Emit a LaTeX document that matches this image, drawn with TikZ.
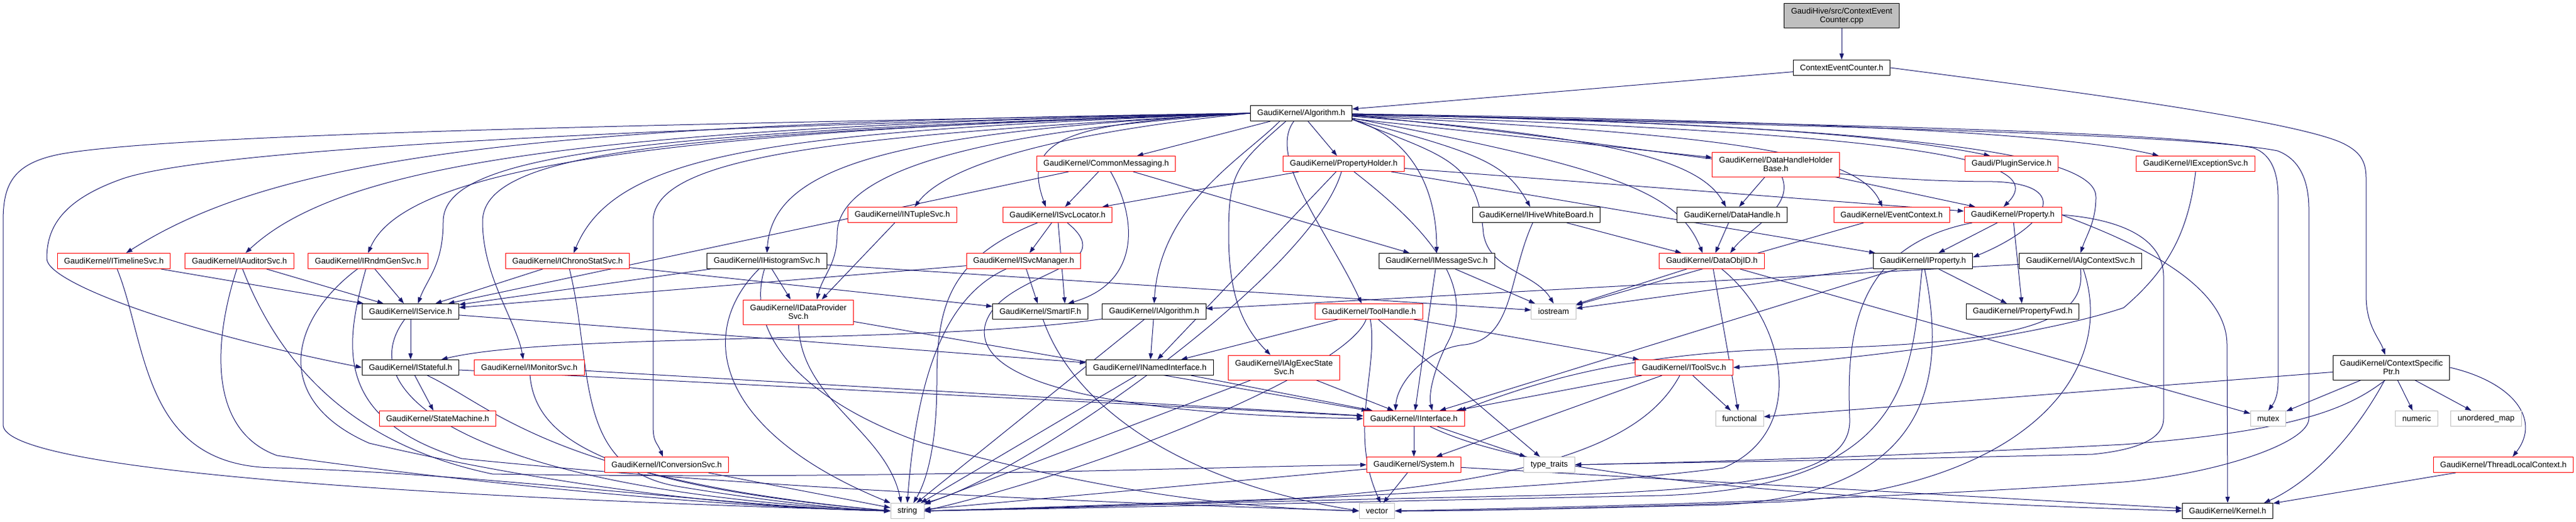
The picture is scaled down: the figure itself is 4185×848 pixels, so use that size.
\documentclass[tikz,border=0pt]{standalone}
\usepackage{fontspec}
\setmainfont{Liberation Sans}
\usetikzlibrary{arrows.meta}
\pgfdeclarelayer{bglayer}
\pgfdeclarelayer{edgelayer}
\pgfsetlayers{bglayer,edgelayer,main}
\definecolor{edgec}{HTML}{191970}
\definecolor{sysgray}{HTML}{BFBFBF}
\definecolor{rootgray}{HTML}{BFBFBF}
\definecolor{rednode}{HTML}{FF0000}
\newcommand{\dxfont}{\fontsize{13.1}{14.3}\selectfont}
\begin{document}
\begin{tikzpicture}[x=1pt,y=-1pt,
 nd/.style={rectangle, inner xsep=11pt, inner ysep=0pt, minimum height=25pt, font=\dxfont, line width=1pt, fill=white, text=black},
 blk/.style={nd, draw=black},
 rnd/.style={nd, draw=rednode},
 sys/.style={nd, draw=sysgray},
 two/.style={minimum height=40pt, align=center},
 e/.style={draw=edgec, line width=1pt, -{Triangle[length=10pt,width=7pt]}},
]
\begin{pgfonlayer}{bglayer}
\fill[white] (0,0) rectangle (4185,848);
\end{pgfonlayer}
\useasboundingbox (0,0) rectangle (4185,848);

% ---------------- nodes ----------------
\node[blk, two, fill=rootgray] (cpp) at (2992,26) {GaudiHive/src/ContextEvent\\Counter.cpp};
\node[blk] (ceh) at (2992,110) {ContextEventCounter.h};
\node[blk] (alg) at (2114,184) {GaudiKernel/Algorithm.h};
\node[rnd] (commonmsg) at (1797,266) {GaudiKernel/CommonMessaging.h};
\node[rnd] (propholder) at (2183,266) {GaudiKernel/PropertyHolder.h};
\node[rnd, two] (dhhb) at (2885,267) {GaudiKernel/DataHandleHolder\\Base.h};
\node[rnd] (plugin) at (3268,266) {Gaudi/PluginService.h};
\node[rnd] (exception) at (3567,266) {GaudiKernel/IExceptionSvc.h};
\node[rnd] (ntuple) at (1466,349) {GaudiKernel/INTupleSvc.h};
\node[rnd] (svcloc) at (1718,349) {GaudiKernel/ISvcLocator.h};
\node[blk] (hive) at (2496,349) {GaudiKernel/IHiveWhiteBoard.h};
\node[blk] (datahandle) at (2814,349) {GaudiKernel/DataHandle.h};
\node[rnd] (evctx) at (3073,349) {GaudiKernel/EventContext.h};
\node[rnd] (property) at (3270,349) {GaudiKernel/Property.h};
\node[rnd] (timeline) at (185,424) {GaudiKernel/ITimelineSvc.h};
\node[rnd] (auditor) at (389,424) {GaudiKernel/IAuditorSvc.h};
\node[rnd] (rndm) at (598,424) {GaudiKernel/IRndmGenSvc.h};
\node[rnd] (chrono) at (922,424) {GaudiKernel/IChronoStatSvc.h};
\node[blk] (histo) at (1246,424) {GaudiKernel/IHistogramSvc.h};
\node[rnd] (svcmgr) at (1663,424) {GaudiKernel/ISvcManager.h};
\node[blk] (msgsvc) at (2334,424) {GaudiKernel/IMessageSvc.h};
\node[rnd] (dataobjid) at (2781,424) {GaudiKernel/DataObjID.h};
\node[blk] (iproperty) at (3124,424) {GaudiKernel/IProperty.h};
\node[blk] (algctx) at (3380,424) {GaudiKernel/IAlgContextSvc.h};
\node[blk] (service) at (667,506) {GaudiKernel/IService.h};
\node[rnd, two] (dataprov) at (1297,507) {GaudiKernel/IDataProvider\\Svc.h};
\node[blk] (smartif) at (1690,506) {GaudiKernel/SmartIF.h};
\node[blk] (ialgorithm) at (1875,506) {GaudiKernel/IAlgorithm.h};
\node[rnd] (toolhandle) at (2224,506) {GaudiKernel/ToolHandle.h};
\node[sys] (iostream) at (2524,506) {iostream};
\node[blk] (propfwd) at (3286,506) {GaudiKernel/PropertyFwd.h};
\node[blk] (stateful) at (667,597) {GaudiKernel/IStateful.h};
\node[rnd] (monitor) at (860,597) {GaudiKernel/IMonitorSvc.h};
\node[blk] (namedif) at (1868,597) {GaudiKernel/INamedInterface.h};
\node[rnd, two] (algexec) at (2086,597) {GaudiKernel/IAlgExecState\\Svc.h};
\node[rnd] (toolsvc) at (2736,597) {GaudiKernel/IToolSvc.h};
\node[blk, two] (csp) at (3885,597) {GaudiKernel/ContextSpecific\\Ptr.h};
\node[rnd] (statemachine) at (711,680) {GaudiKernel/StateMachine.h};
\node[rnd] (iinterface) at (2297,680) {GaudiKernel/IInterface.h};
\node[sys] (functional) at (2826,680) {functional};
\node[sys] (mutex) at (3685,680) {mutex};
\node[sys] (numeric) at (3926,680) {numeric};
\node[sys] (umap) at (4039,680) {unordered\_map};
\node[rnd] (conversion) at (1083,755) {GaudiKernel/IConversionSvc.h};
\node[rnd] (system) at (2297,755) {GaudiKernel/System.h};
\node[sys] (typetraits) at (2517,755) {type\_traits};
\node[rnd] (tlc) at (4067,755) {GaudiKernel/ThreadLocalContext.h};
\node[sys] (string) at (1474,830) {string};
\node[sys] (vector) at (2237,830) {vector};
\node[blk] (kernel) at (3619,830) {GaudiKernel/Kernel.h};

% ---------------- edges ----------------
\begin{pgfonlayer}{edgelayer}
\draw[e] (cpp) -- (ceh);
\draw[e] (ceh) -- (alg);
\draw[e] (ceh.east) .. controls (3300,140) and (3700,190) .. (3800,230) .. controls (3835,245) and (3844,262) .. (3844,290) -- (3844,480) .. controls (3844,530) and (3866,550) .. ([xshift=-10pt]csp.north);

% Algorithm fan to the left
\draw[e] (alg.west) .. controls (1200,200) and (300,215) .. (100,250) .. controls (20,265) and (5,300) .. (5,360) -- (5,690) .. controls (5,760) and (600,805) .. (string.west);
\draw[e] (alg.west) .. controls (1100,205) and (350,240) .. (200,290) .. controls (100,325) and (76,370) .. (76,420) .. controls (76,460) and (300,540) .. (stateful.west);
\draw[e] (alg.west) .. controls +(-1150,15) and +(250,-160) .. ([xshift=20pt]timeline.north);
\draw[e] (alg.west) .. controls +(-1050,22) and +(160,-150) .. ([xshift=10pt]auditor.north);
\draw[e] (alg.west) .. controls +(-950,28) and +(60,-140) .. (rndm.north);
\draw[e] (alg.west) .. controls +(-750,30) and +(70,-170) .. ([xshift=10pt]chrono.north);
\draw[e] (alg.west) .. controls +(-550,30) and +(10,-150) .. (histo.north);
\draw[e] (alg.west) .. controls +(-250,25) and +(60,-80) .. ([xshift=20pt]ntuple.north);
\draw[e] (alg.west) .. controls +(-1000,30) and +(0,-110) .. (720,360) .. controls +(0,70) and +(15,-40) .. ([xshift=12pt]service.north);
\draw[e] (alg.west) .. controls +(-900,32) and +(0,-120) .. (784,360) .. controls +(0,90) and +(-10,-60) .. ([xshift=-10pt]monitor.north);
\draw[e] (alg.west) .. controls +(-650,36) and +(0,-110) .. (1061,360) -- (1061,690) .. controls +(0,30) and +(-10,-25) .. ([xshift=-6pt]conversion.north);
\draw[e] (alg.west) .. controls +(-450,30) and +(0,-100) .. (1360,380) .. controls +(0,50) and +(10,-40) .. ([xshift=30pt]dataprov.north);
\draw[e] (alg) -- (commonmsg);
\draw[e] (alg.west) .. controls +(-300,15) and +(-40,-110) .. ([xshift=-19pt]svcloc.north);
\draw[e] (alg) -- (propholder);
\draw[e] ([xshift=-35pt]alg.south) .. controls +(-60,60) and +(10,-160) .. (ialgorithm.north);
\draw[e] ([xshift=-25pt]alg.south) .. controls +(-80,70) and +(0,-100) .. (1996,380) .. controls +(0,90) and +(-50,-50) .. ([xshift=-22pt]algexec.north);
\draw[e] ([xshift=-12pt]alg.south) .. controls +(-45,60) and +(-50,-110) .. ([xshift=-12pt]toolhandle.north);
% Algorithm fan to the right
\draw[e] ([yshift=-10pt]alg.east) .. controls +(100,30) and +(0,-100) .. (msgsvc.north);
\draw[e] ([yshift=-10pt]alg.east) .. controls +(210,55) and +(-40,-70) .. ([xshift=-10pt]hive.north);
\draw[e] ([yshift=-10pt]alg.east) .. controls +(150,60) and +(-10,-120) .. (2410,380) .. controls +(10,60) and +(-30,-50) .. (iostream.north);
\draw[e] ([yshift=-8pt]alg.east) .. controls +(420,80) and +(-40,-100) .. ([xshift=-15pt]dataobjid.north);
\draw[e] (alg) -- (dhhb);
\draw[e] ([yshift=-5pt]alg.east) .. controls +(450,35) and +(-40,-70) .. ([xshift=-10pt]datahandle.north);
\draw[e] ([yshift=-4pt]alg.east) .. controls +(600,30) and +(-40,-90) .. ([xshift=-15pt]evctx.north);
\draw[e] ([yshift=-2pt]alg.east) .. controls (2700,195) and (3050,215) .. ([xshift=-35pt]plugin.north);
\draw[e] ([yshift=-3pt]alg.east) .. controls +(900,30) and +(80,-80) .. ([xshift=-15pt]property.north);
\draw[e] ([yshift=-3pt]alg.east) .. controls +(500,50) and +(-300,0) .. (3240,295) .. controls +(130,5) and +(120,-50) .. ([yshift=6pt]iproperty.east);
\draw[e] ([yshift=-2pt]alg.east) .. controls +(1000,20) and +(0,-60) .. (3405,320) .. controls +(0,40) and +(10,-30) .. (algctx.north);
\draw[e] ([yshift=-1pt]alg.east) .. controls (2900,195) and (3350,215) .. ([xshift=-60pt]exception.north);
\draw[e] ([yshift=-1pt]alg.east) .. controls (2800,200) and (3500,210) .. (3660,240) .. controls (3690,250) and (3701,280) .. (3701,320) -- (3701,620) .. controls (3701,650) and (3690,660) .. (mutex.north);
\draw[e] ([yshift=-1pt]alg.east) .. controls (2800,202) and (3550,215) .. (3700,245) .. controls (3740,260) and (3751,300) .. (3751,340) -- (3751,680) .. controls (3751,720) and (3600,770) .. (3450,783) .. controls (3000,815) and (2500,825) .. (vector.east);

% CommonMessaging
\draw[e] (commonmsg) -- (service);
\draw[e] (commonmsg) -- (svcloc);
\draw[e] (commonmsg) -- (msgsvc);
\draw[e] (commonmsg) .. controls (1850,360) and (1850,460) .. ([xshift=45pt]smartif.north);

% PropertyHolder
\draw[e] (propholder) -- (property);
\draw[e] (propholder) -- (iproperty);
\draw[e] (propholder) -- (svcloc);
\draw[e] (propholder) .. controls (2130,450) and (1650,780) .. (string.north east);
\draw[e] (propholder) -- (namedif);
\draw[e] (propholder) .. controls (2330,380) and (2400,470) .. (2350,560) .. controls (2330,600) and (2320,640) .. ([xshift=30pt]iinterface.north);

% DataHandleHolderBase, DataHandle, EventContext
\draw[e] (dhhb) -- (datahandle);
\draw[e] ([xshift=10pt]dhhb.south) .. controls +(20,50) and +(30,-40) .. ([xshift=30pt]dataobjid.north);
\draw[e] (dhhb) -- (property);
\draw[e] (datahandle) -- (dataobjid);
\draw[e] (evctx) -- (iostream);

% Property
\draw[e] (property) -- (iproperty);
\draw[e] (property) -- (propfwd);
\draw[e] (property) .. controls (3010,400) and (3000,550) .. (3005,680) .. controls (3008,760) and (2900,795) .. (2500,805) .. controls (2000,815) and (1700,825) .. (string.east);
\draw[e] (property.east) .. controls (3430,380) and (3618,450) .. (3618,560) -- (kernel.north);
\draw[e] (property.east) .. controls (3430,355) and (3515,380) .. (3515,450) -- (3515,680) .. controls (3515,710) and (3480,730) .. (3400,738) .. controls (3000,748) and (2700,752) .. (typetraits.east);

% IProperty
\draw[e] (iproperty) -- (propfwd);
\draw[e] (iproperty) -- (iinterface);
\draw[e] (iproperty) -- (iostream);
\draw[e] (iproperty) .. controls (3105,600) and (3110,790) .. (2700,805) .. controls (2200,815) and (1800,825) .. (string.east);
\draw[e] (iproperty) .. controls (3160,600) and (3150,800) .. (2800,820) .. controls (2600,825) and (2400,830) .. (vector.east);

% IAlgContextSvc, IExceptionSvc
\draw[e] (algctx) -- (ialgorithm);
\draw[e] (algctx.south) .. controls (3390,520) and (3300,560) .. (2900,567) .. controls (2600,575) and (2450,640) .. ([xshift=-8pt]iinterface.north east);
\draw[e] (algctx) .. controls (3440,600) and (3300,790) .. (2900,815) .. controls (2600,825) and (2400,830) .. (vector.east);
\draw[e] (exception.south) .. controls (3555,380) and (3520,440) .. (3450,500) .. controls (3300,550) and (3000,585) .. (toolsvc.east);

% IHiveWhiteBoard
\draw[e] (hive) -- (dataobjid);
\draw[e] (hive) .. controls (2450,450) and (2460,550) .. (2380,560) .. controls (2320,565) and (2270,620) .. ([xshift=-30pt]iinterface.north);

% IMessageSvc
\draw[e] (msgsvc) -- (iinterface);
\draw[e] (msgsvc) -- (iostream);

% ISvcLocator, ISvcManager, INTupleSvc
\draw[e] (svcloc) -- (svcmgr);
\draw[e] (svcloc) .. controls (1540,420) and (1522,500) .. (1522,620) .. controls (1522,740) and (1500,790) .. ([xshift=10pt]string.north);
\draw[e] (svcloc) -- ([xshift=40pt]smartif.north);
\draw[e] (svcloc) .. controls (1830,440) and (1620,440) .. (1600,530) .. controls (1580,640) and (1900,675) .. (iinterface.west);
\draw[e] (svcmgr) -- (service);
\draw[e] (svcmgr) -- (smartif);
\draw[e] (svcmgr) .. controls (1540,480) and (1490,600) .. (string.north);
\draw[e] (ntuple) -- ([xshift=38pt]dataprov.north);

% IHistogramSvc, IChronoStatSvc
\draw[e] (histo) -- (service);
\draw[e] (histo) -- (dataprov);
\draw[e] (histo) .. controls (1130,540) and (1160,700) .. (string.north west);
\draw[e] (histo) -- (iostream);
\draw[e] (histo) .. controls (1210,540) and (1300,650) .. (1500,720) .. controls (1800,800) and (2000,825) .. (vector.west);
\draw[e] (chrono) -- (service);
\draw[e] (chrono) .. controls (965,600) and (930,760) .. (1100,790) .. controls (1250,815) and (1380,828) .. (string.west);
\draw[e] (chrono) -- (smartif);

% ITimelineSvc, IAuditorSvc, IRndmGenSvc
\draw[e] (timeline) -- (service);
\draw[e] (timeline) .. controls (240,560) and (230,760) .. (450,760) .. controls (800,770) and (1200,825) .. (string.west);
\draw[e] (auditor) -- (service);
\draw[e] (auditor) .. controls (345,560) and (340,700) .. (450,740) .. controls (800,790) and (1200,825) .. (string.west);
\draw[e] (auditor) .. controls (450,580) and (560,720) .. (800,770) .. controls (1400,780) and (1900,760) .. (system.west);
\draw[e] (rndm) -- (service);
\draw[e] (rndm) .. controls (470,520) and (440,650) .. (600,720) .. controls (900,790) and (1200,825) .. (string.west);
\draw[e] (rndm) .. controls (560,560) and (540,680) .. (750,745) .. controls (1300,800) and (1900,820) .. (vector.west);

% IService, IStateful, IMonitorSvc, IConversionSvc, IDataProviderSvc
\draw[e] (service) -- (stateful);
\draw[e] (service) -- (namedif);
\draw[e] (service) .. controls (560,650) and (800,800) .. (string.west);
\draw[e] (stateful) -- (statemachine);
\draw[e] (stateful) -- (iinterface);
\draw[e] (stateful) .. controls (800,660) and (900,780) .. (string.west);
\draw[e] (monitor) -- (iinterface);
\draw[e] (monitor) .. controls (870,720) and (1000,790) .. (string.west);
\draw[e] (conversion) -- (string);
\draw[e] (dataprov) .. controls (1300,650) and (1440,700) .. ([xshift=-10pt]string.north);
\draw[e] (dataprov) -- (iinterface);

% SmartIF, IAlgorithm, INamedInterface, IAlgExecStateSvc
\draw[e] (smartif) .. controls (1740,650) and (1900,780) .. (vector.west);
\draw[e] (ialgorithm) -- ([xshift=15pt]string.north);
\draw[e] (ialgorithm) -- (namedif);
\draw[e] (ialgorithm) .. controls (1500,560) and (900,540) .. ([xshift=50pt]stateful.north);
\draw[e] (namedif) -- (iinterface);
\draw[e] (namedif) -- (string);
\draw[e] (algexec) -- (iinterface);
\draw[e] (algexec) -- (string);

% ToolHandle, IToolSvc
\draw[e] (toolhandle) -- (toolsvc);
\draw[e] (toolhandle) -- (namedif);
\draw[e] (toolhandle) .. controls (2190,600) and (1800,760) .. (string.east);
\draw[e] (toolhandle) .. controls (2240,600) and (2190,700) .. ([xshift=6pt]vector.north);
\draw[e] (toolhandle) -- (typetraits);
\draw[e] (toolsvc) -- (iinterface);
\draw[e] (toolsvc) -- (system);
\draw[e] (toolsvc) .. controls (2680,700) and (2550,780) .. (2100,810) .. controls (1800,820) and (1600,828) .. (string.east);
\draw[e] (toolsvc) -- (functional);

% DataObjID
\draw[e] (dataobjid) -- (functional);
\draw[e] (dataobjid) -- (mutex);
\draw[e] (dataobjid) -- (iostream);
\draw[e] (dataobjid) .. controls (2900,520) and (2940,700) .. (2800,760) .. controls (2500,800) and (1800,825) .. (string.east);

% IInterface, System
\draw[e] (iinterface) -- (system);
\draw[e] (iinterface) -- (typetraits);
\draw[e] (iinterface) .. controls (2480,770) and (2900,810) .. (kernel.west);
\draw[e] (system) -- (vector);
\draw[e] (system) -- (string);
\draw[e] (system) -- (kernel);

% ContextSpecificPtr, ThreadLocalContext
\draw[e] (csp) -- (functional);
\draw[e] (csp) -- (mutex);
\draw[e] ([xshift=-10pt]csp.south) .. controls (3820,660) and (3740,700) .. (3450,722) .. controls (3100,740) and (2800,750) .. (typetraits.east);
\draw[e] (csp) .. controls (3830,700) and (3760,780) .. ([xshift=-15pt]kernel.north east);
\draw[e] (csp) -- (numeric);
\draw[e] (csp) -- (umap);
\draw[e] (csp.east) .. controls (4080,620) and (4130,680) .. ([xshift=15pt]tlc.north);
\draw[e] (tlc) -- (kernel);
\end{pgfonlayer}
\end{tikzpicture}
\end{document}
